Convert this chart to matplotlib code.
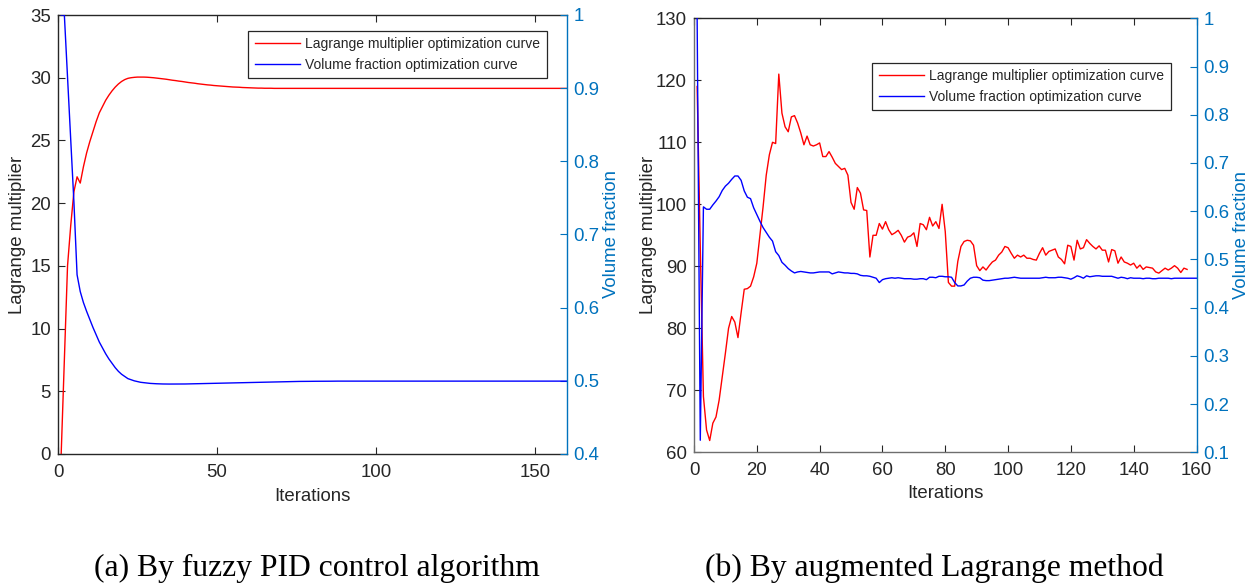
import matplotlib
matplotlib.use("Agg")
import matplotlib.pyplot as plt
from matplotlib.lines import Line2D

# ---------------- data: (a) fuzzy PID ----------------
pid_lagrange = [
    0.0, 7.5, 15.0, 18.2, 20.9, 22.1, 21.6, 22.9, 24.0, 24.9,
    25.7, 26.5, 27.2, 27.7, 28.2, 28.6, 28.95, 29.25, 29.5, 29.7,
    29.85, 29.95, 30.0, 30.03, 30.05, 30.05, 30.05, 30.04, 30.02, 30.0,
    29.97, 29.94, 29.91, 29.88, 29.84, 29.8, 29.77, 29.73, 29.7, 29.66,
    29.62, 29.59, 29.56, 29.52, 29.49, 29.46, 29.43, 29.41, 29.38, 29.36,
    29.34, 29.32, 29.3, 29.28, 29.26, 29.25, 29.24, 29.22, 29.21, 29.2,
    29.19, 29.18, 29.17, 29.17, 29.16, 29.16, 29.16, 29.15, 29.15, 29.15,
    29.15, 29.15, 29.15, 29.15, 29.15, 29.15, 29.15, 29.15, 29.15, 29.15,
    29.15, 29.15, 29.15, 29.15, 29.15, 29.15, 29.15, 29.15, 29.15, 29.15,
    29.15, 29.15, 29.15, 29.15, 29.15, 29.15, 29.15, 29.15, 29.15, 29.15,
    29.15, 29.15, 29.15, 29.15, 29.15, 29.15, 29.15, 29.15, 29.15, 29.15,
    29.15, 29.15, 29.15, 29.15, 29.15, 29.15, 29.15, 29.15, 29.15, 29.15,
    29.15, 29.15, 29.15, 29.15, 29.15, 29.15, 29.15, 29.15, 29.15, 29.15,
    29.15, 29.15, 29.15, 29.15, 29.15, 29.15, 29.15, 29.15, 29.15, 29.15,
    29.15, 29.15, 29.15, 29.15, 29.15, 29.15, 29.15, 29.15, 29.15, 29.15,
    29.15, 29.15, 29.15, 29.15, 29.15, 29.15, 29.15, 29.15, 29.15, 29.15,
]
pid_volume = [
    1.0, 1.0, 0.915, 0.83, 0.745, 0.645, 0.622, 0.607, 0.595, 0.584,
    0.573, 0.563, 0.553, 0.545, 0.537, 0.530, 0.524, 0.518, 0.513, 0.509,
    0.506, 0.503, 0.5015, 0.5, 0.499, 0.498, 0.4975, 0.497, 0.4965, 0.4962,
    0.496, 0.4958, 0.4957, 0.4956, 0.4956, 0.4956, 0.4956, 0.4956, 0.4957, 0.4957,
    0.4958, 0.4959, 0.496, 0.4961, 0.4962, 0.4963, 0.4964, 0.4966, 0.4967, 0.4968,
    0.4969, 0.497, 0.4971, 0.4972, 0.4973, 0.4974, 0.4975, 0.4976, 0.4977, 0.4978,
    0.4979, 0.498, 0.4981, 0.4982, 0.4983, 0.4984, 0.4985, 0.4986, 0.4987, 0.4988,
    0.4989, 0.499, 0.499, 0.4991, 0.4991, 0.4992, 0.4992, 0.4993, 0.4993, 0.4994,
    0.4994, 0.4994, 0.4995, 0.4995, 0.4995, 0.4995, 0.4996, 0.4996, 0.4996, 0.4996,
    0.4996, 0.4996, 0.4996, 0.4996, 0.4996, 0.4996, 0.4996, 0.4996, 0.4996, 0.4996,
    0.4996, 0.4996, 0.4996, 0.4996, 0.4996, 0.4996, 0.4996, 0.4996, 0.4996, 0.4996,
    0.4996, 0.4996, 0.4996, 0.4996, 0.4996, 0.4996, 0.4996, 0.4996, 0.4996, 0.4996,
    0.4996, 0.4996, 0.4996, 0.4996, 0.4996, 0.4996, 0.4996, 0.4996, 0.4996, 0.4996,
    0.4996, 0.4996, 0.4996, 0.4996, 0.4996, 0.4996, 0.4996, 0.4996, 0.4996, 0.4996,
    0.4996, 0.4996, 0.4996, 0.4996, 0.4996, 0.4996, 0.4996, 0.4996, 0.4996, 0.4996,
    0.4996, 0.4996, 0.4996, 0.4996, 0.4996, 0.4996, 0.4996, 0.4996, 0.4996, 0.4996,
]

# ---------------- data: (b) augmented Lagrange ----------------
aug_lagrange = [
    119.0, 93.0, 69.0, 63.6, 61.9, 64.7, 65.7, 68.4, 72.2, 76.0,
    80.0, 81.9, 81.0, 78.5, 82.5, 86.3, 86.4, 86.8, 88.3, 90.5,
    95.0, 99.6, 104.7, 108.0, 110.0, 109.8, 121.0, 114.7, 112.5, 111.7,
    114.1, 114.3, 113.1, 111.5, 109.6, 111.0, 109.6, 109.4, 109.6, 109.9,
    107.7, 107.7, 108.5, 107.6, 106.6, 106.1, 105.6, 105.8, 104.7, 100.3,
    99.2, 102.7, 101.8, 99.1, 99.0, 91.5, 95.0, 95.0, 96.9, 96.0,
    97.2, 95.9, 95.1, 95.4, 95.8, 95.0, 93.9, 94.7, 94.9, 95.4,
    93.2, 96.9, 96.7, 95.9, 97.9, 96.5, 97.2, 96.1, 100.0, 95.6,
    87.4, 86.8, 86.8, 90.8, 93.2, 94.0, 94.2, 94.1, 93.4, 90.1,
    89.3, 89.9, 89.4, 90.1, 90.7, 91.0, 91.8, 92.3, 93.2, 93.0,
    92.1, 91.3, 91.8, 91.5, 91.8, 91.3, 91.3, 91.1, 91.0, 92.1,
    93.0, 91.8, 92.4, 92.6, 92.8, 91.5, 91.1, 90.4, 93.4, 93.2,
    91.0, 94.2, 92.8, 93.0, 94.3, 93.7, 93.2, 92.8, 93.3, 92.6,
    92.6, 90.7, 92.7, 92.5, 90.5, 91.5, 90.7, 90.5, 90.2, 90.5,
    89.7, 90.2, 89.5, 89.9, 89.8, 89.7, 89.1, 88.9, 89.3, 89.7,
    89.4, 89.7, 90.1, 89.7, 89.0, 89.7, 89.5,
]
aug_volume = [
    1.0, 0.125, 0.609, 0.604, 0.604, 0.613, 0.621, 0.630, 0.643, 0.652,
    0.658, 0.666, 0.673, 0.673, 0.664, 0.642, 0.629, 0.626, 0.607, 0.593,
    0.579, 0.566, 0.556, 0.546, 0.538, 0.516, 0.508, 0.494, 0.488, 0.481,
    0.476, 0.472, 0.474, 0.475, 0.474, 0.473, 0.472, 0.472, 0.473, 0.474,
    0.474, 0.474, 0.474, 0.470, 0.472, 0.474, 0.473, 0.472, 0.472, 0.471,
    0.471, 0.470, 0.467, 0.466, 0.466, 0.465, 0.463, 0.461, 0.452, 0.458,
    0.460, 0.461, 0.462, 0.461, 0.462, 0.461, 0.460, 0.460, 0.460, 0.459,
    0.459, 0.460, 0.460, 0.458, 0.463, 0.463, 0.462, 0.465, 0.465, 0.464,
    0.464, 0.463, 0.452, 0.445, 0.445, 0.447, 0.455, 0.461, 0.463, 0.463,
    0.462, 0.457, 0.456, 0.456, 0.457, 0.458, 0.459, 0.460, 0.461, 0.461,
    0.462, 0.463, 0.462, 0.461, 0.461, 0.461, 0.461, 0.461, 0.461, 0.461,
    0.462, 0.463, 0.462, 0.462, 0.462, 0.463, 0.463, 0.462, 0.461, 0.459,
    0.462, 0.466, 0.464, 0.461, 0.466, 0.464, 0.465, 0.466, 0.466, 0.465,
    0.465, 0.465, 0.465, 0.463, 0.461, 0.463, 0.462, 0.460, 0.462, 0.461,
    0.461, 0.461, 0.460, 0.461, 0.461, 0.460, 0.460, 0.461, 0.461, 0.461,
    0.461, 0.460, 0.461, 0.461, 0.461, 0.461, 0.461, 0.461, 0.461, 0.461,
]

legend_labels = ["Lagrange multiplier optimization curve",
                 "Volume fraction optimization curve"]
captions = ["(a) By fuzzy PID control algorithm",
             "(b) By augmented Lagrange method"]
xlabel = "Iterations"
ylabel_left = "Lagrange multiplier"
ylabel_right = "Volume fraction"

pid_xticks = [0, 50, 100, 150]
pid_yticks = [0, 5, 10, 15, 20, 25, 30, 35]
pid_y2ticks = [0.4, 0.5, 0.6, 0.7, 0.8, 0.9, 1.0]
pid_y2labels = ["0.4", "0.5", "0.6", "0.7", "0.8", "0.9", "1"]
aug_xticks = [0, 20, 40, 60, 80, 100, 120, 140, 160]
aug_yticks = [60, 70, 80, 90, 100, 110, 120, 130]
aug_y2ticks = [0.1, 0.2, 0.3, 0.4, 0.5, 0.6, 0.7, 0.8, 0.9, 1.0]
aug_y2labels = ["0.1", "0.2", "0.3", "0.4", "0.5", "0.6", "0.7", "0.8", "0.9", "1"]

# ---------------- style ----------------
SANS = ["Liberation Sans", "Arial", "DejaVu Sans"]
SERIF = ["Liberation Serif", "Times New Roman", "DejaVu Serif"]
plt.rcParams["font.family"] = SANS
TXT = "#262626"
BLUEAX = "#0072BD"
RED = "#ff0000"
BLUE = "#0000ff"
TICKFS = 13.4
LEGFS = 10.0

fig = plt.figure(figsize=(12.53, 5.88), dpi=100)


def make_panel(rect, lag, vol, xlim, ylim, y2lim, xticks, yticks, y2ticks,
               y2labels, leg_anchor, caption, cap_x, left_spine_color,
               ylab_x, y2lab_x, xlab_y):
    ax = fig.add_axes(rect)
    xs_l = list(range(1, len(lag) + 1))
    xs_v = list(range(1, len(vol) + 1))
    ax.plot(xs_l, lag, color=RED, lw=1.0)
    ax.set_xlim(*xlim)
    ax.set_ylim(*ylim)
    ax.set_xticks(xticks)
    ax.set_yticks(yticks)
    ax.tick_params(axis="both", direction="in", length=5, width=0.8,
                   labelsize=TICKFS, colors=TXT, top=True, pad=5)
    ax.tick_params(axis="x", pad=7)
    ax.set_xlabel(xlabel, fontsize=TICKFS, color=TXT)
    ax.xaxis.set_label_coords(0.5, xlab_y)
    ax.xaxis.label.set_va("center")
    ax.set_ylabel(ylabel_left, fontsize=TICKFS, color=TXT)
    ax.yaxis.set_label_coords(ylab_x, 0.5)
    ax.yaxis.label.set_va("center")
    ax.spines["top"].set_color(TXT)
    ax.spines["left"].set_color(left_spine_color)
    ax.spines["bottom"].set_color(left_spine_color)
    ax.spines["right"].set_visible(False)
    for s in ax.spines.values():
        s.set_linewidth(1.0)

    ax2 = ax.twinx()
    ax2.plot(xs_v, vol, color=BLUE, lw=1.0)
    ax2.set_ylim(*y2lim)
    ax2.set_yticks(y2ticks)
    ax2.set_yticklabels(y2labels)
    ax2.tick_params(axis="y", direction="in", length=5, width=0.8,
                    labelsize=TICKFS, colors=BLUEAX, pad=5)
    ax2.set_ylabel(ylabel_right, fontsize=TICKFS, color=BLUEAX)
    ax2.yaxis.set_label_coords(y2lab_x, 0.5)
    ax2.yaxis.label.set_va("center")
    for s in ["left", "top", "bottom"]:
        ax2.spines[s].set_visible(False)
    ax2.spines["right"].set_color(BLUEAX)
    ax2.spines["right"].set_linewidth(1.0)

    handles = [Line2D([], [], color=RED, lw=1.0),
               Line2D([], [], color=BLUE, lw=1.0)]
    leg = ax2.legend(handles, legend_labels, loc="upper right",
                     bbox_to_anchor=leg_anchor, bbox_transform=ax.transAxes,
                     fontsize=LEGFS, frameon=True, fancybox=False,
                     framealpha=1.0, edgecolor="#262626", borderaxespad=0,
                     handlelength=3.3, handletextpad=0.35, borderpad=0.45,
                     labelspacing=0.5)
    leg.get_frame().set_linewidth(0.9)
    for t in leg.get_texts():
        t.set_color(TXT)

    fig.text(cap_x, 1 - 568 / 588, caption, family=SERIF, fontsize=22.8,
             ha="center", va="center", color="black")
    return ax, ax2


make_panel([58 / 1253, 1 - 454 / 588, 508.5 / 1253, 439 / 588],
           pid_lagrange, pid_volume, (0, 160), (0, 35), (0.4, 1.0),
           pid_xticks, pid_yticks, pid_y2ticks, pid_y2labels,
           (0.9607, 0.9642), captions[0], 317 / 1253, TXT,
           -0.0787, 1.089, -0.0957)

make_panel([694 / 1253, 1 - 452.3 / 588, 502.5 / 1253, 434 / 588],
           aug_lagrange, aug_volume, (0, 160), (60, 130), (0.1, 1.0),
           aug_xticks, aug_yticks, aug_y2ticks, aug_y2labels,
           (0.9483, 0.8977), captions[1], 934 / 1253, "#6e6e6e",
           -0.091, 1.090, -0.096)

fig.savefig("out.png", dpi=100)
